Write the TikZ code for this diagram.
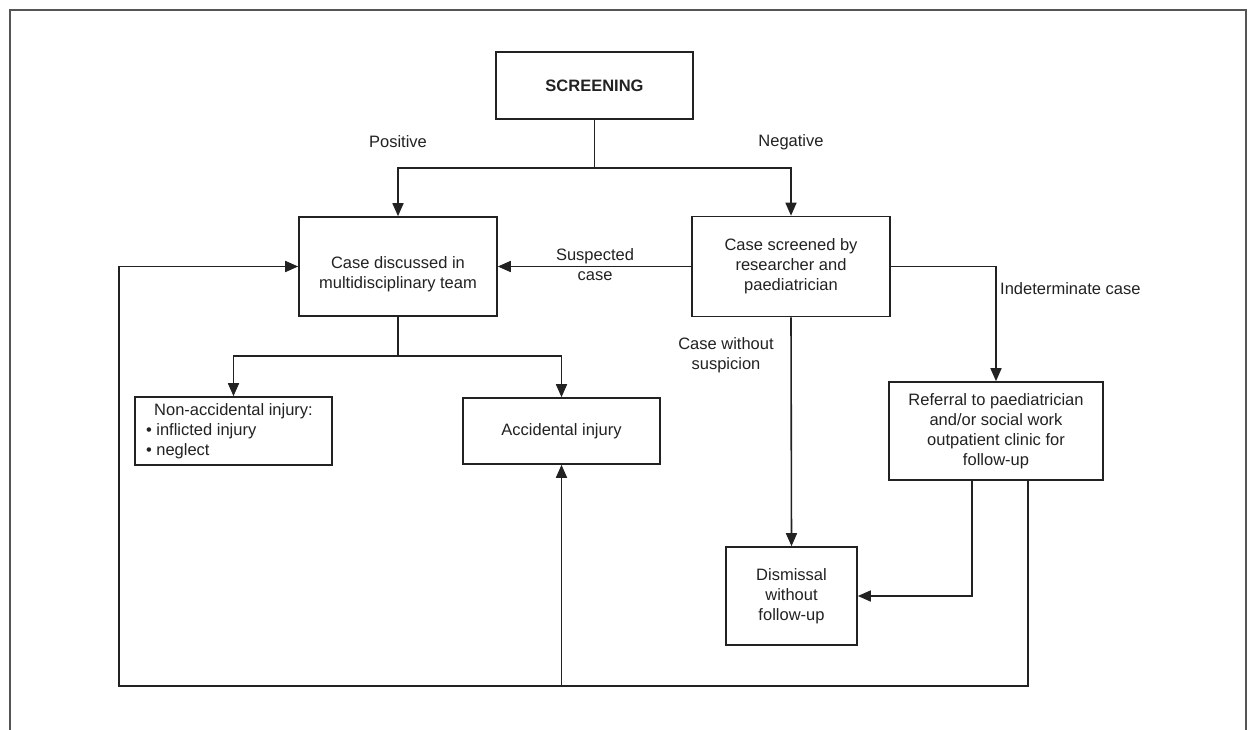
\documentclass[tikz,border=0pt]{standalone}
\usepackage{fontspec}
\setmainfont{Liberation Sans}
\usetikzlibrary{arrows.meta,calc}
\definecolor{ink}{HTML}{222222}
\definecolor{frame}{HTML}{555555}
\tikzset{
  box/.style={draw=ink, line width=1.6pt, rectangle, inner sep=0pt, align=center,
    text=ink, font=\fontsize{16.5}{20}\selectfont},
  lbl/.style={text=ink, font=\fontsize{16.5}{20}\selectfont, align=center, inner sep=0pt},
  conn/.style={draw=ink, line width=1.6pt},
  arr/.style={conn, -{Triangle[length=13pt,width=11pt]}},
}
\begin{document}
\begin{tikzpicture}[x=1pt,y=-1pt]
\useasboundingbox (0,0) rectangle (1253,730);
\fill[white] (0,0) rectangle (1253,730);
% outer frame (open at the bottom)
\draw[frame, line width=1.3pt] (10,730) -- (10,10) -- (1246,10) -- (1246,730);

% boxes
\node[box, minimum width=197pt, minimum height=67pt] (screen) at (594.5,85.5) {\textbf{SCREENING}};
\node[box, minimum width=198pt, minimum height=99pt] (disc) at (398,266.5) {};
\node[lbl] (discT) at (398,274) {Case discussed in\\multidisciplinary team};
\node[box, minimum width=198pt, minimum height=100pt] (scr) at (791,266.5) {Case screened by\\researcher and\\paediatrician};
\node[box, minimum width=197pt, minimum height=68pt] (nai) at (233.5,431) {\parbox{175pt}{\centering Non-accidental injury:\par\raggedright \textbullet\ inflicted injury\\\textbullet\ neglect}};
\node[box, minimum width=197pt, minimum height=66pt] (acc) at (561.5,431) {Accidental injury};
\node[box, minimum width=214pt, minimum height=98pt] (ref) at (996,431) {Referral to paediatrician\\and/or social work\\outpatient clinic for\\follow-up};
\node[box, minimum width=131pt, minimum height=98pt] (dis) at (791.5,596) {Dismissal\\without\\follow-up};

% labels
\node[lbl] (lpos) at (398,142) {Positive};
\node[lbl] (lneg) at (791,142) {Negative};
\node[lbl] (lsus) at (595,265) {Suspected\\case};
\node[lbl] (lwo) at (726,355) {Case without\\suspicion};
\node[lbl, anchor=west] (lind) at (1000,289) {Indeterminate case};

% connectors
\coordinate (split1) at (594.5,168);
\draw[conn] (screen.south) -- (split1);
\draw[arr] (split1) -| (disc.north);
\draw[arr] (split1) -| (scr.north);

\draw[arr] (scr.west) -- (disc.east);
\draw[arr] (scr.east) -| (ref.north);
\draw[arr] (scr.south) -- (dis.north);

\coordinate (split2) at (398,356);
\draw[conn] (disc.south) -- (split2);
\draw[arr] (split2) -| (nai.north);
\draw[arr] (split2) -| (acc.north);

\coordinate (refA) at ($(ref.south)+(-24,0)$);
\draw[arr] (refA) |- (dis.east);

\coordinate (refB) at ($(ref.south)+(32,0)$);
\coordinate (loopBR) at (1028,686);
\coordinate (loopBL) at (119,686);
\coordinate (loopTL) at (119,266.5);
\coordinate (loopMid) at (561.5,686);
\draw[arr] (refB) -- (loopBR) -- (loopBL) -- (loopTL) -- (disc.west);
\draw[arr] (loopMid) -- (acc.south);
\end{tikzpicture}
\end{document}
